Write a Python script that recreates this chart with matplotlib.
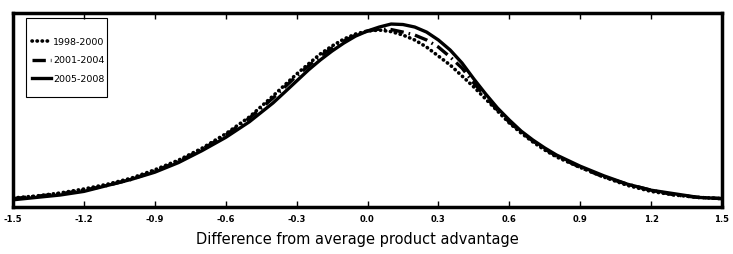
import numpy as np
import matplotlib.pyplot as plt
from matplotlib.patches import Rectangle

# difference from average product advantage (finer steps round the peak)
x = [-1.5, -1.4, -1.3, -1.2, -1.1, -1.0, -0.9, -0.8, -0.7, -0.6, -0.5,
     -0.4, -0.35, -0.3, -0.25, -0.2, -0.15, -0.1, -0.05, 0.0, 0.05, 0.1,
     0.15, 0.2, 0.25, 0.3, 0.35, 0.4, 0.45, 0.5, 0.55, 0.6, 0.65, 0.7,
     0.75, 0.8, 0.9, 1.0, 1.1, 1.2, 1.3, 1.4, 1.5]

d_1998 = [0.075, 0.092, 0.117, 0.15, 0.19, 0.24, 0.31, 0.39, 0.49, 0.61, 0.75,
          0.925, 1.017, 1.108, 1.192, 1.275, 1.342, 1.40, 1.442, 1.467, 1.475,
          1.462, 1.433, 1.392, 1.333, 1.258, 1.183, 1.092, 1.0, 0.90, 0.80,
          0.70, 0.617, 0.542, 0.475, 0.417,
          0.33, 0.25, 0.18, 0.13, 0.10, 0.08, 0.07]
d_2001 = [0.07, 0.09, 0.11, 0.14, 0.18, 0.23, 0.30, 0.38, 0.48, 0.60, 0.74,
          0.908, 1.0, 1.092, 1.175, 1.258, 1.325, 1.383, 1.433, 1.467, 1.483,
          1.479, 1.458, 1.433, 1.392, 1.333, 1.25, 1.158, 1.033, 0.917, 0.808,
          0.708, 0.625, 0.55, 0.483, 0.425,
          0.33, 0.25, 0.19, 0.14, 0.10, 0.08, 0.07]
d_2005 = [0.06, 0.08, 0.10, 0.13, 0.18, 0.23, 0.29, 0.37, 0.47, 0.58, 0.71,
          0.867, 0.958, 1.05, 1.142, 1.225, 1.30, 1.367, 1.425, 1.467, 1.50,
          1.525, 1.521, 1.50, 1.458, 1.392, 1.308, 1.20, 1.067, 0.942, 0.825,
          0.725, 0.633, 0.558, 0.492, 0.433,
          0.34, 0.26, 0.19, 0.14, 0.11, 0.08, 0.07]

ticks = [-1.5, -1.2, -0.9, -0.6, -0.3, 0.0, 0.3, 0.6, 0.9, 1.2, 1.5]

fig = plt.figure(figsize=(7.33, 2.54), dpi=100)
ax = fig.add_axes([13/733, 47/254, 709/733, 194/254])

ax.plot(x, d_1998, color='k', lw=2.6, linestyle=(0, (0.1, 1.3)),
        dash_capstyle='round', label='1998-2000')
ax.plot(x, d_2001, color='k', lw=2.4, linestyle=(0, (4, 1.5, 0.5, 1.5)),
        label='2001-2004')
ax.plot(x, d_2005, color='k', lw=2.4, label='2005-2008')

ax.set_xlim(-1.5, 1.5)
ax.set_ylim(0, 1.617)
ax.set_xticks(ticks)
ax.set_xticklabels(['%.1f' % t for t in ticks], fontsize=6, fontweight='bold')
ax.set_yticks([])
ax.tick_params(axis='x', direction='in', top=True, length=4, width=1, pad=6)
for s in ax.spines.values():
    s.set_linewidth(2.5)

ax.set_xlabel('Difference from average product advantage', fontsize=10.5)
ax.xaxis.set_label_coords(0.486, -0.13)

# legend without frame, box drawn by hand
leg = ax.legend(loc='upper left', fontsize=6.8, handlelength=2.0,
                frameon=False, borderpad=0, labelspacing=1.0,
                handletextpad=0.25,
                bbox_to_anchor=(27/733, 1 - 33/254),
                bbox_transform=fig.transFigure)
fig.patches.append(Rectangle((26/733, 1 - 97/254), 81/733, 79/254,
                             transform=fig.transFigure, fill=False,
                             edgecolor='k', lw=0.8, zorder=5))

fig.savefig('out.png', dpi=100)
